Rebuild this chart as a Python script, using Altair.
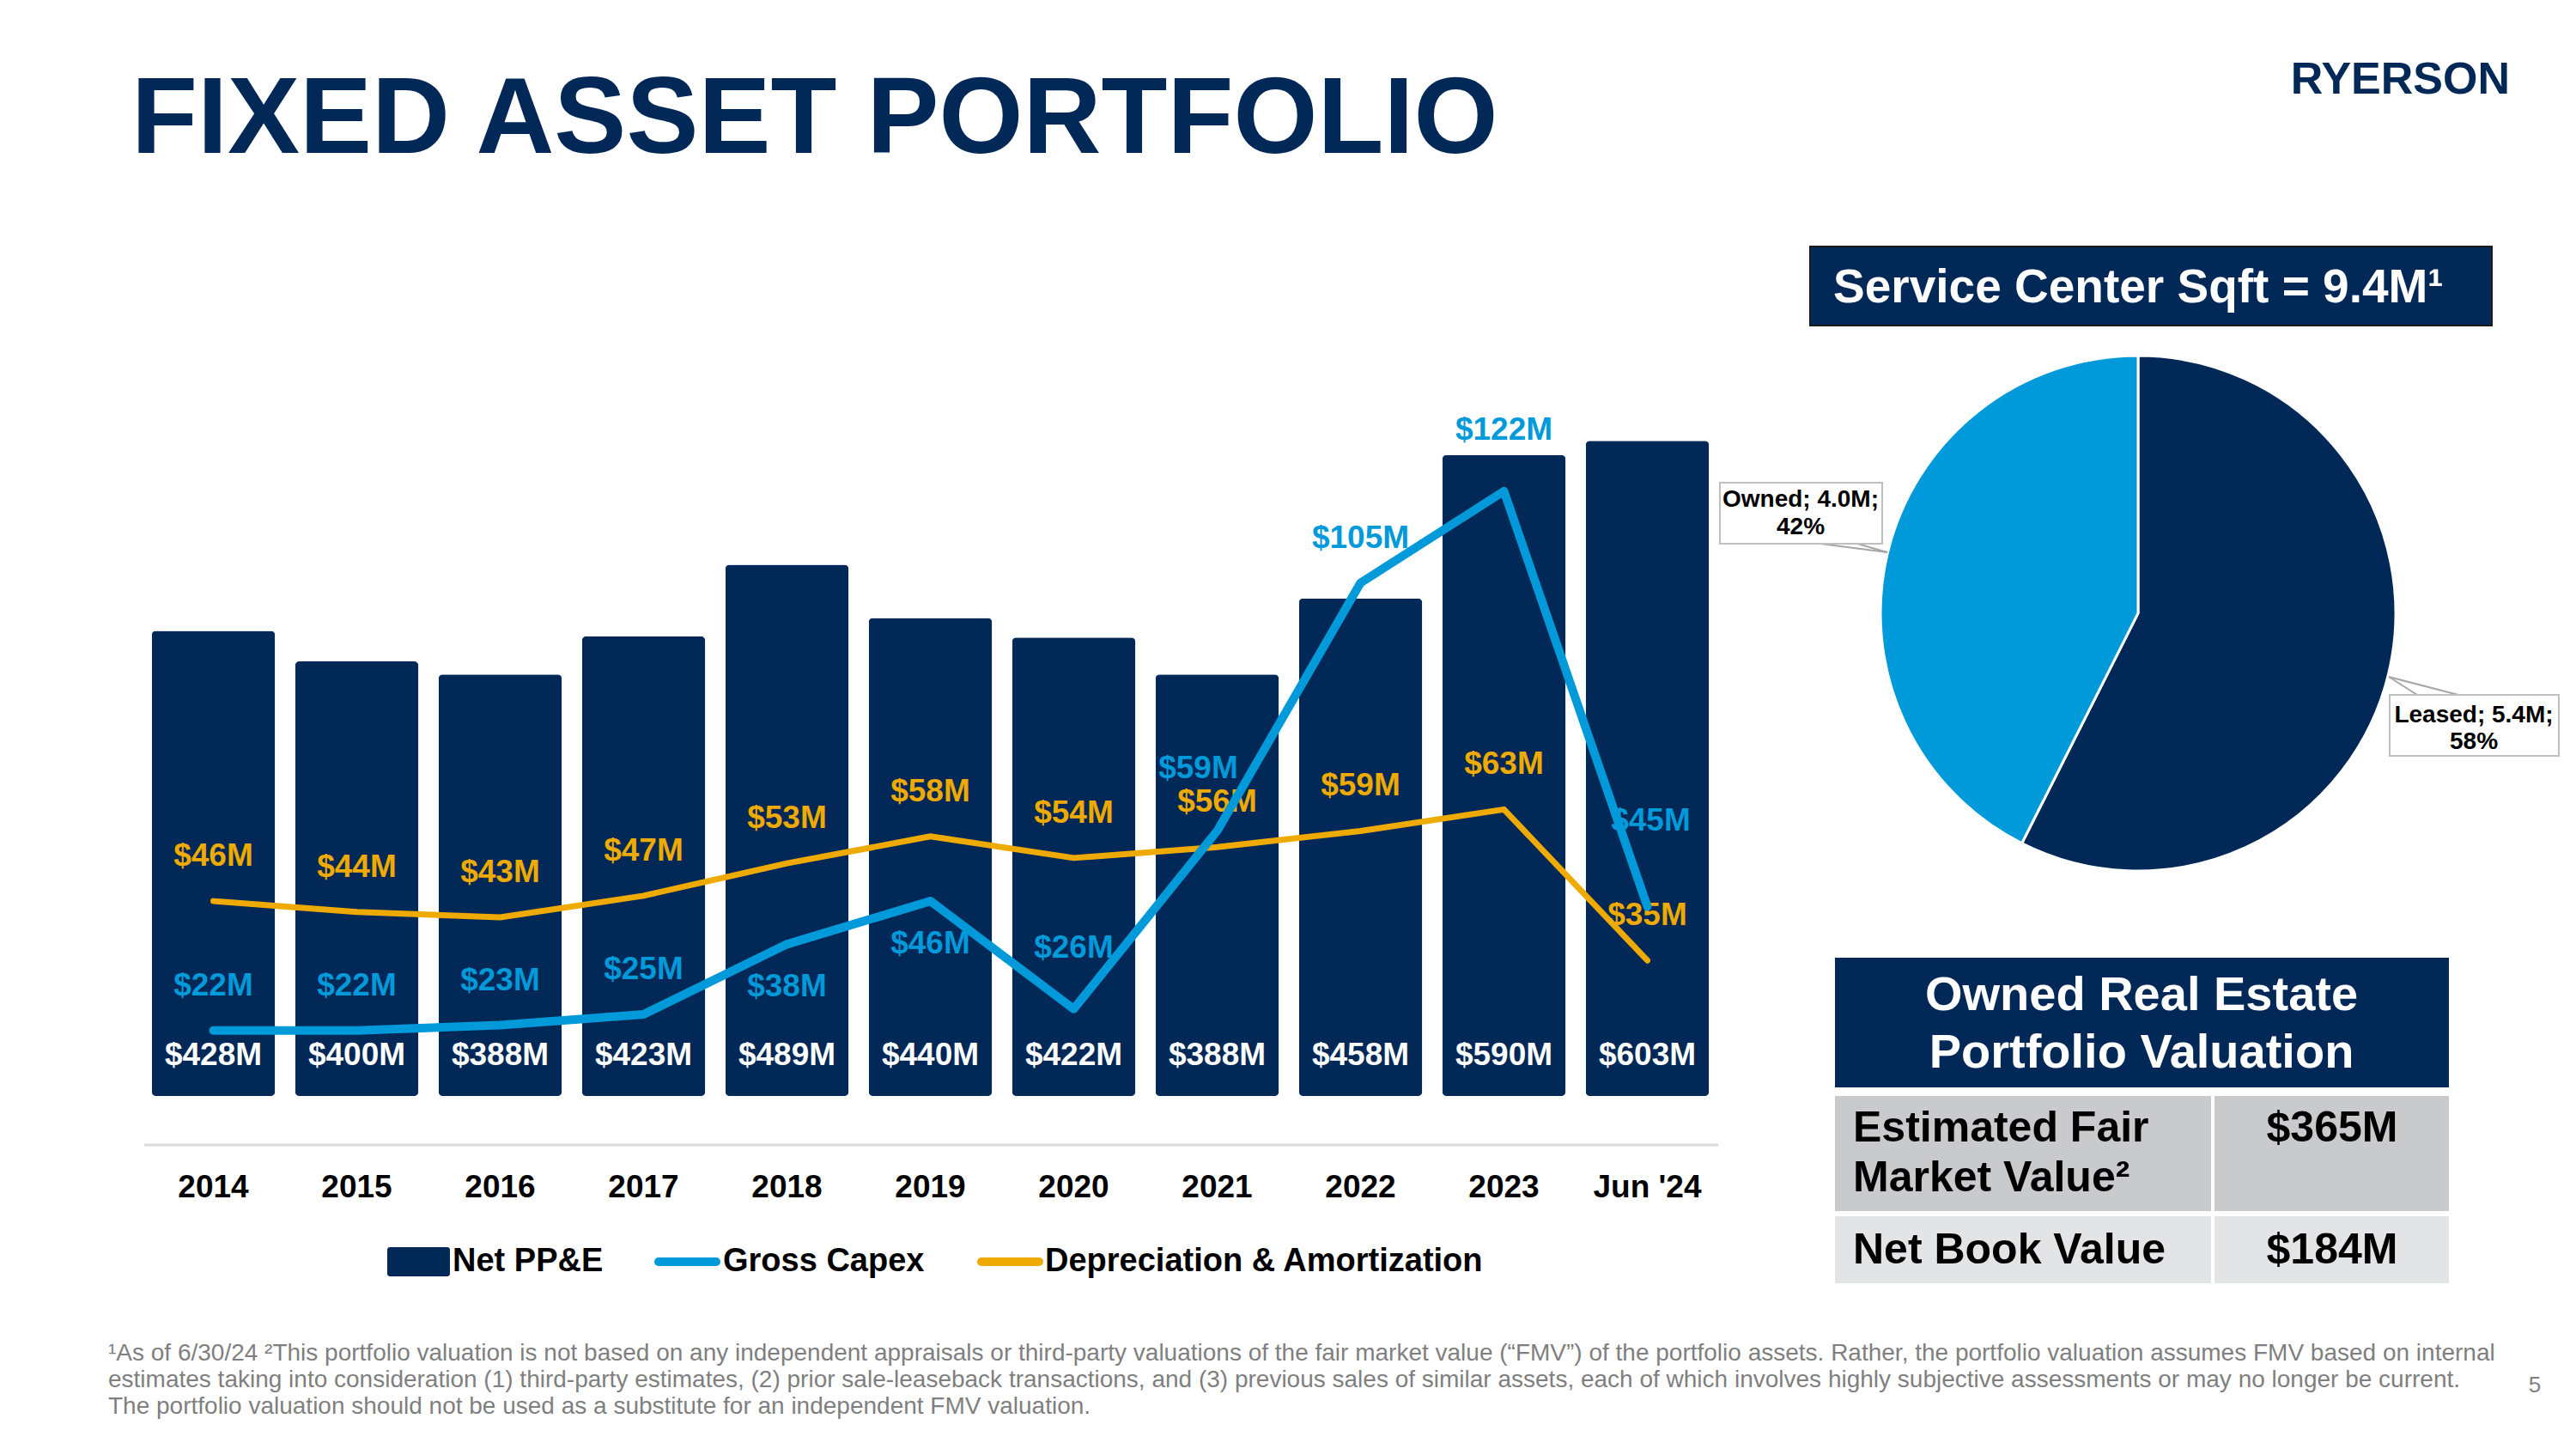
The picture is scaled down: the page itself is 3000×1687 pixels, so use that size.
import json
import altair as alt
import pandas as pd

# ---------------- data ----------------
years = ["2014", "2015", "2016", "2017", "2018", "2019", "2020", "2021", "2022", "2023", "Jun '24"]
net_ppe = [428, 400, 388, 423, 489, 440, 422, 388, 458, 590, 603]
gross_capex = [22, 22, 23, 25, 38, 46, 26, 59, 105, 122, 45]
dep_amort = [46, 44, 43, 47, 53, 58, 54, 56, 59, 63, 35]
series_names = ["Net PP&E", "Gross Capex", "Depreciation & Amortization"]

pie_labels = ["Leased", "Owned"]
pie_sqft = [5.4, 4.0]
pie_pct = [58, 42]
total_sqft = 9.4

table_title = ["Owned Real Estate", "Portfolio Valuation"]
table_rows = [["Estimated Fair", "Market Value²"], ["Net Book Value"]]
table_values = ["$365M", "$184M"]

title_text = "FIXED ASSET PORTFOLIO"
logo_text = "RYERSON"
footnote = [
    "¹As of 6/30/24 ²This portfolio valuation is not based on any independent appraisals or third-party valuations of the fair market value (“FMV”) of the portfolio assets.  Rather, the portfolio valuation assumes FMV based on internal",
    "estimates taking into consideration (1) third-party estimates, (2) prior sale-leaseback transactions, and (3) previous sales of similar assets, each of which involves highly subjective assessments or may no longer be current.",
    "The portfolio valuation should not be used as a substitute for an independent FMV valuation.",
]
page_no = "5"

# ---------------- styles ----------------
NAVY = "#012856"
BLUE = "#0099D9"
GOLD = "#EFAA00"
GRAY_TXT = "#7F7F7F"
SANS = "Liberation Sans, Arial, sans-serif"

W, H = 2984, 1671
O = 8  # page margin

df = pd.DataFrame({"year": years, "ppe": net_ppe, "capex": gross_capex, "da": dep_amort})
one = pd.DataFrame({"k": [0]})

xband = alt.X("year:N", sort=years, axis=None,
              scale=alt.Scale(domain=years, range=[165 - O, 2002 - O],
                              paddingInner=0.14, paddingOuter=0.07))
k_bar = 1.265
ybar_scale = alt.Scale(domain=[0, 700], range=[1276 - O, 1276 - O - 700 * k_bar], nice=False)
k_line = 6.28
yline_scale = alt.Scale(domain=[0, 150], range=[1338 - O, 1338 - O - 150 * k_line], nice=False)

LAB = 37

base = alt.Chart(df)

bars = base.mark_bar(color=NAVY, cornerRadius=5).encode(
    x=xband, y=alt.Y("ppe:Q", scale=ybar_scale, axis=None))

ppe_lab = base.transform_calculate(lab="'$' + datum.ppe + 'M'").mark_text(
    font=SANS, fontSize=LAB, fontWeight="bold", color="white", baseline="middle"
).encode(x=xband, y=alt.value(1229 - O), text="lab:N")


def in_list(lst):
    return "indexof(%s, datum.year) >= 0" % json.dumps(lst)


CAPEX_BELOW = ["2018", "2019"]
CAPEX_HIGH = ["2020", "2023"]
CAPEX_LEFT = ["2021"]
CAPEX_TOP = ["Jun '24"]
capex_groups = [
    ("!(" + in_list(CAPEX_BELOW + CAPEX_HIGH + CAPEX_LEFT + CAPEX_TOP) + ")", -52, 0),
    (in_list(CAPEX_BELOW), 50, 0),
    (in_list(CAPEX_HIGH), -71, 0),
    (in_list(CAPEX_LEFT), -72, -22),
    (in_list(CAPEX_TOP), -99, 4),
]
capex_labs = []
for expr, dy, dx in capex_groups:
    capex_labs.append(
        base.transform_filter(expr).transform_calculate(lab="'$' + datum.capex + 'M'")
        .mark_text(font=SANS, fontSize=LAB, fontWeight="bold", color=BLUE, baseline="middle",
                   dy=dy, dx=dx)
        .encode(x=xband, y=alt.Y("capex:Q", scale=yline_scale, axis=None), text="lab:N"))

da_lab = base.transform_calculate(lab="'$' + datum.da + 'M'").mark_text(
    font=SANS, fontSize=LAB, fontWeight="bold", color=GOLD, baseline="middle", dy=-52
).encode(x=xband, y=alt.Y("da:Q", scale=yline_scale, axis=None), text="lab:N")

da_line = base.mark_line(color=GOLD, strokeWidth=7, strokeCap="round", strokeJoin="round").encode(
    x=xband, y=alt.Y("da:Q", scale=yline_scale, axis=None))
capex_line = base.mark_line(color=BLUE, strokeWidth=10, strokeCap="round", strokeJoin="round").encode(
    x=xband, y=alt.Y("capex:Q", scale=yline_scale, axis=None))

year_lab = base.mark_text(font=SANS, fontSize=37, fontWeight="bold", color="black",
                          baseline="middle").encode(x=xband, y=alt.value(1383 - O), text="year:N")


def txt(text, x, y, size, color, font=SANS, weight="bold", align="left", baseline="middle"):
    return alt.Chart(one).mark_text(text=text, fontSize=size, font=font, fontWeight=weight,
                                    color=color, align=align, baseline=baseline).encode(
        x=alt.value(x - O), y=alt.value(y - O))


def rect(x1, x2, y1, y2, fill, stroke=None, sw=0, cr=0):
    kw = dict(color=fill, cornerRadius=cr)
    if stroke:
        kw.update(stroke=stroke, strokeWidth=sw)
    return alt.Chart(one).mark_rect(**kw).encode(
        x=alt.value(x1 - O), x2=alt.value(x2 - O), y=alt.value(y1 - O), y2=alt.value(y2 - O))


def rule(x1, y1, x2, y2, color, sw, cap="butt"):
    return alt.Chart(one).mark_rule(color=color, strokeWidth=sw, strokeCap=cap).encode(
        x=alt.value(x1 - O), y=alt.value(y1 - O), x2=alt.value(x2 - O), y2=alt.value(y2 - O))


axis_line = rule(168, 1333, 2001, 1333, "#D9D9D9", 3)

# legend
legend = [
    rect(451, 524, 1452, 1486, NAVY, cr=3),
    txt(series_names[0], 527, 1469, 38, "black"),
    rule(767, 1469, 834, 1469, BLUE, 10, "round"),
    txt(series_names[1], 842, 1469, 38, "black"),
    rule(1143, 1469, 1210, 1469, GOLD, 10, "round"),
    txt(series_names[2], 1217, 1469, 38, "black"),
]

# title / logo
title = txt(title_text, 153, 178, 126, NAVY, baseline="alphabetic")
logo = txt(logo_text, 2923, 109, 52, NAVY, align="right", baseline="alphabetic")

# pie
pie_df = pd.DataFrame({"slice": pie_labels, "sqft": pie_sqft})
pie = alt.Chart(pie_df).mark_arc(radius=300, stroke="white", strokeWidth=3).encode(
    theta=alt.Theta("sqft:Q", stack=True),
    color=alt.Color("slice:N", scale=alt.Scale(domain=pie_labels, range=[NAVY, BLUE]), legend=None),
    order=alt.Order("slice:N", sort="ascending"),
    x=alt.value(2490 - O), y=alt.value(714 - O))

sc_box = [
    rect(2108, 2902, 287, 379, NAVY, stroke="#1A1A1A", sw=2),
    txt(f"Service Center Sqft = {total_sqft}M¹", 2135, 335, 55, "white"),
]

owned_lab = [
    rule(2120, 633, 2198, 643, "#A6A6A6", 2),
    rule(2163, 633, 2198, 643, "#A6A6A6", 2),
    rect(2003, 2192, 562, 633, "white", stroke="#BFBFBF", sw=2),
    txt(f"{pie_labels[1]}; {pie_sqft[1]:.1f}M;", 2097, 582, 28, "black", align="center"),
    txt(f"{pie_pct[1]}%", 2097, 614, 28, "black", align="center"),
]
leased_lab = [
    rule(2782, 788, 2815, 809, "#A6A6A6", 2),
    rule(2782, 788, 2863, 809, "#A6A6A6", 2),
    rect(2783, 2980, 809, 880, "white", stroke="#BFBFBF", sw=2),
    txt(f"{pie_labels[0]}; {pie_sqft[0]:.1f}M;", 2881, 833, 28, "black", align="center"),
    txt(f"{pie_pct[0]}%", 2881, 864, 28, "black", align="center"),
]

# table
table = [
    rect(2137, 2852, 1115, 1266, NAVY),
    txt(table_title[0], 2494, 1159, 56, "white", align="center"),
    txt(table_title[1], 2494, 1226, 56, "white", align="center"),
    rect(2137, 2575, 1276, 1410, "#C8CACC"),
    rect(2579, 2852, 1276, 1410, "#C8CACC"),
    rect(2137, 2575, 1416, 1494, "#E3E4E5"),
    rect(2579, 2852, 1416, 1494, "#E3E4E5"),
    txt(table_rows[0][0], 2158, 1314, 50, "black"),
    txt(table_rows[0][1], 2158, 1372, 50, "black"),
    txt(table_values[0], 2716, 1314, 50, "black", align="center"),
    txt(table_rows[1][0], 2158, 1456, 50, "black"),
    txt(table_values[1], 2716, 1456, 50, "black", align="center"),
]

foot = [txt(line, 126, 1576 + 31 * i, 28, GRAY_TXT, weight="normal")
        for i, line in enumerate(footnote)]
foot.append(txt(page_no, 2952, 1613, 26, GRAY_TXT, weight="normal", align="center"))

layers = ([axis_line, bars, ppe_lab] + capex_labs + [da_lab, da_line, capex_line, year_lab]
          + legend + [title, logo, pie] + sc_box + owned_lab + leased_lab + table + foot)

chart = alt.layer(*layers).resolve_scale(y="independent").properties(
    width=W, height=H, autosize=alt.AutoSizeParams(type="none"), padding=0,
    background="white"
).configure_view(strokeWidth=0)

chart.save("out.html", embed_options={"renderer": "svg", "actions": False})
